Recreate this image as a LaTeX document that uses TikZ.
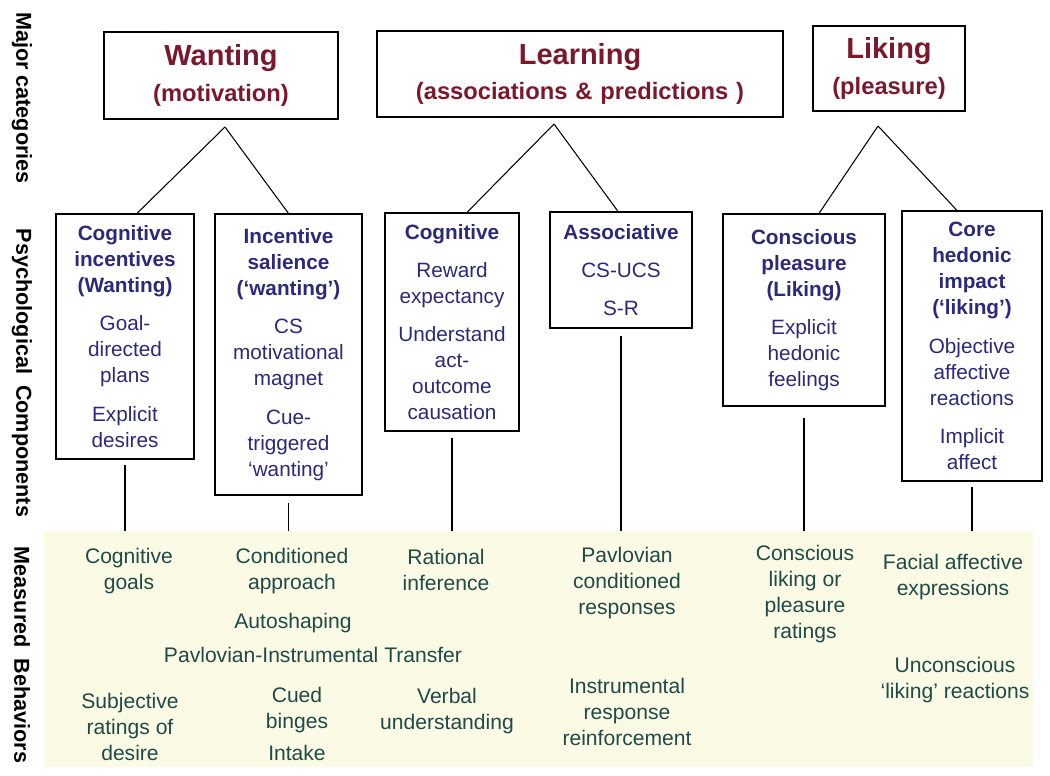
\documentclass[tikz,border=0pt]{standalone}
\usepackage{fontspec}
\setmainfont{Liberation Sans}
\usepackage{tikz}
\usetikzlibrary{calc}
\definecolor{catred}{RGB}{122,24,46}
\definecolor{compblue}{RGB}{44,40,122}
\definecolor{behgreen}{RGB}{32,74,72}
\definecolor{panelyellow}{RGB}{251,251,229}

\begin{document}
\begin{tikzpicture}[x=0.02cm,y=-0.02cm,
  catbox/.style={draw,line width=0.7pt,align=center,inner sep=0pt,text=catred,
    font=\bfseries\fontsize{13.5}{20}\selectfont},
  compbox/.style={draw,line width=0.7pt,align=center,inner sep=0pt,text=compblue,
    font=\fontsize{11.8}{14.8}\selectfont},
  behtext/.style={align=center,inner sep=0pt,text=behgreen,font=\fontsize{12}{14.8}\selectfont},
  sidetext/.style={rotate=-90,inner sep=0pt,font=\bfseries\fontsize{12.3}{14}\selectfont},
  link/.style={line width=0.6pt}]
\useasboundingbox (0,0) rectangle (1050,776);

\node[fill=panelyellow,minimum width=19.78cm,minimum height=4.72cm,inner sep=0pt] (panel) at (538.5,649) {};

\node[sidetext] (majorLbl) at (22,98) {Major categories};
\node[sidetext] (psychLbl) at (22,373) {Psychological\hspace{0.5em}Components};
\node[sidetext] (measLbl) at (22,655) {Measured\hspace{0.5em}Behaviors};

\node[catbox,text width=4.68cm,minimum height=1.74cm] (wanting) at (221,75.5)
  {{\fontsize{16.5}{20}\selectfont Wanting}\\(motivation)};
\node[catbox,text width=8.12cm,minimum height=1.72cm] (learning) at (580,74)
  {{\fontsize{16.5}{20}\selectfont Learning}\\(associations \& predictions )};
\node[catbox,text width=3.04cm,minimum height=1.7cm] (liking) at (889,68.5)
  {{\fontsize{16.5}{20}\selectfont Liking}\\(pleasure)};

\node[compbox,text width=2.76cm,minimum height=4.9cm] (cogInc) at (125,336.5)
  {{\bfseries Cognitive\\incentives\\(Wanting)}\\[7pt]Goal-\\directed\\plans\\[7pt]Explicit\\desires};
\node[compbox,text width=2.94cm,minimum height=5.62cm] (incSal) at (288.5,354.5)
  {{\bfseries Incentive\\salience\\(‘wanting’)}\\[7pt]CS\\motivational\\magnet\\[7pt]Cue-\\triggered\\‘wanting’};
\node[compbox,text width=2.68cm,minimum height=4.36cm] (cogLearn) at (452,322)
  {{\bfseries Cognitive}\\[7pt]Reward\\expectancy\\[7pt]Understand\\act-\\outcome\\causation};
\node[compbox,text width=2.84cm,minimum height=2.32cm] (assoc) at (621,270)
  {{\bfseries Associative}\\[7pt]CS-UCS\\[7pt]S-R};
\node[compbox,text width=3.24cm,minimum height=3.84cm] (consPl) at (804,310)
  {{\bfseries Conscious\\pleasure\\(Liking)}\\[7pt]Explicit\\hedonic\\feelings};
\node[compbox,text width=2.8cm,minimum height=5.4cm] (coreHed) at (972,346)
  {{\bfseries Core\\hedonic\\impact\\(‘liking’)}\\[7pt]Objective\\affective\\reactions\\[7pt]Implicit\\affect};

\coordinate (wantTip) at (225,127);
\coordinate (learnTip) at (554,124);
\coordinate (likeTip) at (878,126);
\draw[link] (wantTip) -- ([xshift=0.24cm]cogInc.north);
\draw[link] (wantTip) -- (incSal.north);
\draw[link] (learnTip) -- ([xshift=0.3cm]cogLearn.north);
\draw[link] (learnTip) -- ([xshift=-0.06cm]assoc.north);
\draw[link] (likeTip) -- ([xshift=0.3cm]consPl.north);
\draw[link] (likeTip) -- ([xshift=-0.3cm]coreHed.north);

\draw[link] ([yshift=-0.1cm]cogInc.south) -- (cogInc.south |- panel.north);
\draw[link] ([yshift=-0.14cm]incSal.south) -- (incSal.south |- panel.north);
\draw[link] ([yshift=-0.12cm]cogLearn.south) -- (cogLearn.south |- panel.north);
\draw[link] ([yshift=-0.14cm]assoc.south) -- (assoc.south |- panel.north);
\draw[link] ([yshift=-0.22cm]consPl.south) -- (consPl.south |- panel.north);
\draw[link] ([yshift=-0.1cm]coreHed.south) -- (coreHed.south |- panel.north);

\node[behtext] (mGoals) at (129,571) {Cognitive\\goals};
\node[behtext] (mApproach) at (292,571) {Conditioned\\approach};
\node[behtext] (mRational) at (446,570) {Rational\\inference};
\node[behtext] (mAuto) at (293,623) {Autoshaping};
\node[behtext] (mPIT) at (313,655) {Pavlovian-Instrumental Transfer};
\node[behtext] (mSubj) at (130,727) {Subjective\\ratings of\\desire};
\node[behtext] (mCued) at (297,724) {Cued\\binges\\[3pt]Intake};
\node[behtext] (mVerbal) at (447,711) {Verbal\\understanding};
\node[behtext] (mPavCR) at (627,583) {Pavlovian\\conditioned\\responses};
\node[behtext] (mInstr) at (627,712) {Instrumental\\response\\reinforcement};
\node[behtext] (mConsc) at (805,594) {Conscious\\liking or\\pleasure\\ratings};
\node[behtext] (mFacial) at (953,577) {Facial affective\\expressions};
\node[behtext] (mUncon) at (955,680) {Unconscious\\‘liking’ reactions};
\end{tikzpicture}
\end{document}
